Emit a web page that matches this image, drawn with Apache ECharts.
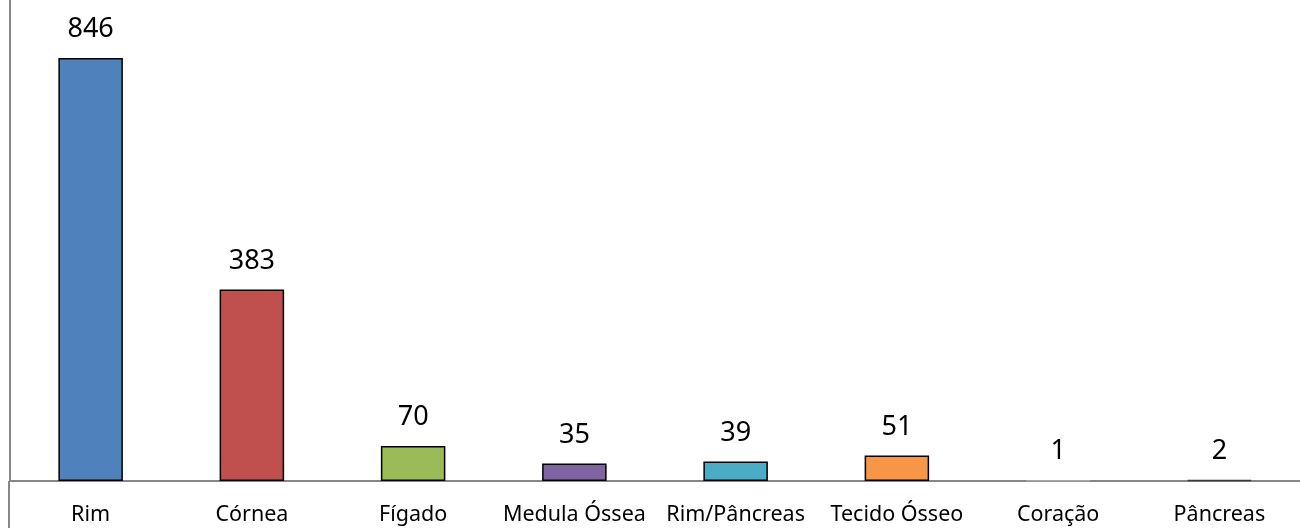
<!DOCTYPE html>
<html>
<head>
<meta charset="utf-8">
<script src="https://cdn.jsdelivr.net/npm/echarts@6/dist/echarts.min.js"></script>
<style>
  html, body { margin: 0; padding: 0; background: #fff; }
  #chart { width: 1300px; height: 528px; }
</style>
</head>
<body>
<div id="chart"></div>
<script>
// categorias e valores
var categories = ['Rim', 'Córnea', 'Fígado', 'Medula Óssea', 'Rim/Pâncreas', 'Tecido Ósseo', 'Coração', 'Pâncreas'];
var values = [846, 383, 70, 35, 39, 51, 1, 2];
var barColors = ['#4F81BD', '#C0504D', '#9BBB59', '#8064A2', '#4BACC6', '#F79646', '#A5A5A5', '#3A3A3A'];
var borderColors = ['#000', '#000', '#000', '#000', '#000', '#000', '#A5A5A5', '#3A3A3A'];

var myChart = echarts.init(document.getElementById('chart'));
var font = '"Noto Sans", sans-serif';

var option = {
  backgroundColor: '#fff',
  animation: false,
  grid: { left: 10, right: 0, top: 0, bottom: 47, containLabel: false },
  xAxis: {
    type: 'category',
    data: categories,
    axisLine: { lineStyle: { color: '#868686', width: 2 } },
    axisTick: { show: false },
    axisLabel: {
      color: '#000',
      fontFamily: font,
      fontSize: 21.5,
      margin: 23,
      interval: 0
    }
  },
  yAxis: {
    type: 'value',
    min: 0,
    max: 962,
    axisLine: { show: true, lineStyle: { color: '#868686', width: 2 } },
    axisTick: { show: false },
    axisLabel: { show: false },
    splitLine: { show: false }
  },
  graphic: [{
    type: 'line',
    shape: { x1: 9, y1: 481, x2: 9, y2: 528 },
    style: { stroke: '#868686', lineWidth: 2 }
  }],
  series: [{
    type: 'bar',
    barWidth: '40%',
    data: values.map(function (v, i) {
      return {
        value: v,
        itemStyle: { color: barColors[i], borderColor: borderColors[i], borderWidth: 1.5 }
      };
    }),
    label: {
      show: true,
      position: 'top',
      distance: 15,
      color: '#000',
      fontFamily: font,
      fontSize: 27
    }
  }]
};
myChart.setOption(option);
</script>
</body>
</html>
